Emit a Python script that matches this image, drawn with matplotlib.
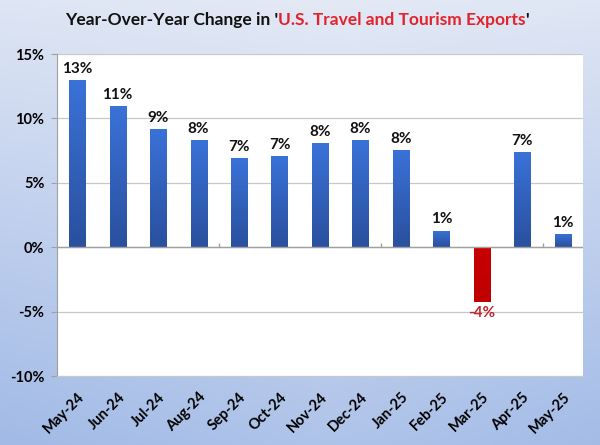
import numpy as np
import matplotlib
matplotlib.use("Agg")
import matplotlib.pyplot as plt
from matplotlib.colors import LinearSegmentedColormap

months = ["May-24", "Jun-24", "Jul-24", "Aug-24", "Sep-24", "Oct-24", "Nov-24",
          "Dec-24", "Jan-25", "Feb-25", "Mar-25", "Apr-25", "May-25"]
yoy = [13.0, 10.95, 9.2, 8.3, 6.9, 7.1, 8.1, 8.3, 7.55, 1.3, -4.25, 7.4, 1.05]
labels = ["13%", "11%", "9%", "8%", "7%", "7%", "8%", "8%", "8%", "1%", "-4%", "7%", "1%"]
yticks = [-10, -5, 0, 5, 10, 15]

plt.rcParams['font.family'] = ['Lato', 'DejaVu Sans']
plt.rcParams['font.weight'] = 'bold'

fig = plt.figure(figsize=(6, 4.45), dpi=100)

# background gradient
bg = fig.add_axes([0, 0, 1, 1], zorder=-10)
yy, xx = np.mgrid[0:1:200j, 0:1:200j]
shade = 0.75 * yy + 0.25 * np.abs(xx - 0.55) * (0.5 + yy)
bg_cmap = LinearSegmentedColormap.from_list("bg", ["#e3e9f5", "#c2d1ee", "#a1bae6"])
bg.imshow(shade, cmap=bg_cmap, aspect='auto', extent=[0, 1, 0, 1], origin='upper')
bg.axis('off')

ax = fig.add_axes([0.095, 0.155, 0.8767, 0.7235])
ax.set_facecolor('white')
x = np.arange(len(months))
colors = ['#c00000' if v < 0 else '#2f62c4' for v in yoy]
bars = ax.bar(x, yoy, width=0.4, color=colors, zorder=3)

# vertical gradient fill for each bar
blue = LinearSegmentedColormap.from_list("b", ["#2a509e", "#3a72d8"])
red = LinearSegmentedColormap.from_list("r", ["#c00000", "#c80000"])
grad = np.linspace(0, 1, 100).reshape(-1, 1)
for b, v in zip(bars, yoy):
    x0, w = b.get_x(), b.get_width()
    y0, y1 = sorted([0, v])
    im = ax.imshow(grad, cmap=blue if v >= 0 else red, aspect='auto',
                   extent=[x0, x0 + w, y0, y1], origin='lower', zorder=4)
    im.set_clip_path(b)

for xi, v, lab in zip(x, yoy, labels):
    if v >= 0:
        ax.annotate(lab, (xi, v), xytext=(0, 3), textcoords='offset points',
                    ha='center', va='bottom', fontsize=11, fontweight='bold', color='#111111')
    else:
        ax.annotate(lab, (xi, v), xytext=(0, -3), textcoords='offset points',
                    ha='center', va='top', fontsize=11, fontweight='bold', color='#c0262c')

ax.set_xlim(-0.5, len(months) - 0.5)
ax.set_ylim(-10, 15)
ax.set_yticks(yticks)
ax.set_yticklabels([f"{t}%" for t in yticks], fontsize=10.5, fontweight='bold')
ax.tick_params(axis='y', length=4, color='#a0a0a0', pad=5)
ax.set_xticks(x)
ax.set_xticklabels(months, rotation=45, ha='right', rotation_mode='anchor',
                   fontsize=10.5, fontweight='bold')
ax.tick_params(axis='x', length=0, pad=10)

ax.grid(axis='y', color='#c8c8c8', linewidth=0.9, zorder=0)
ax.axhline(0, color='#a0a0a0', linewidth=1.0, zorder=5)
ax.vlines([3.5, 7.5, 11.5], 0, 0.3, color='#a0a0a0', linewidth=1.0, zorder=5)
for s in ['top', 'right']:
    ax.spines[s].set_visible(False)
ax.spines['left'].set_color('#a0a0a0')
ax.spines['bottom'].set_color('#c8c8c8')

# multi-colour title
parts = [("Year-Over-Year Change in '", '#111111'),
         ("U.S. Travel and Tourism Exports", '#e3232b'),
         ("'", '#111111')]
renderer = fig.canvas.get_renderer()
texts = []
total = 0
for s, c in parts:
    t = fig.text(0, 0.955, s, color=c, fontsize=12.5, fontweight='bold', va='center', ha='left')
    w = t.get_window_extent(renderer).width
    texts.append((t, w))
    total += w
xpos = 297 - total / 2
for t, w in texts:
    t.set_x(xpos / 600)
    xpos += w

fig.savefig("out.png", dpi=100)
